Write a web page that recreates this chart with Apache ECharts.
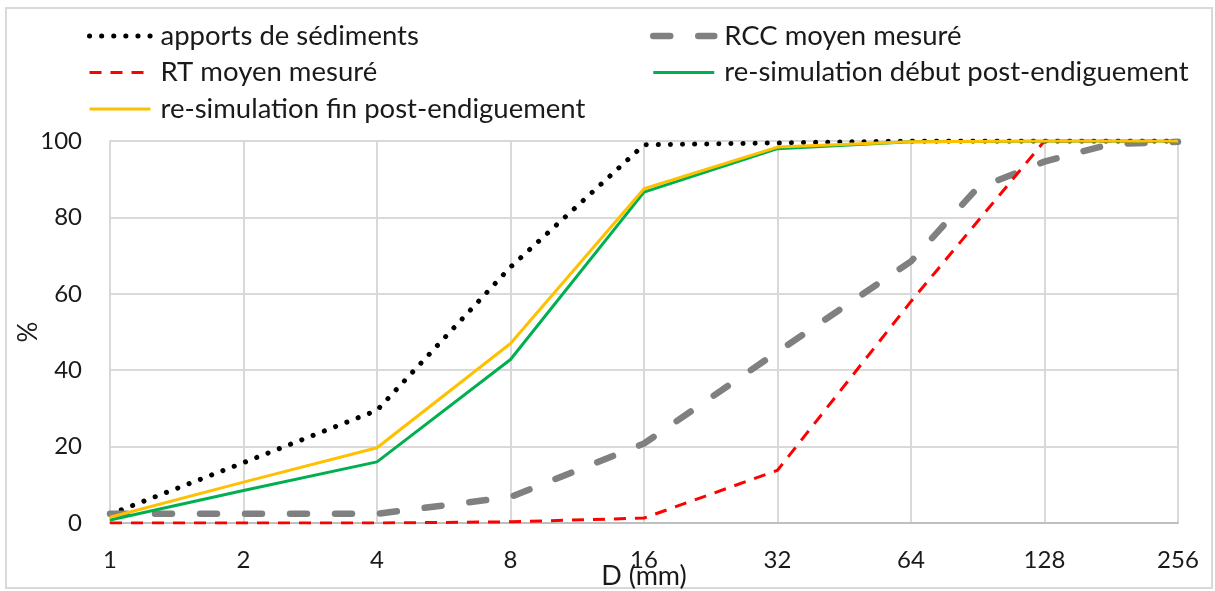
<!DOCTYPE html>
<html>
<head>
<meta charset="utf-8">
<script src="https://cdn.jsdelivr.net/npm/echarts@6/dist/echarts.min.js"></script>
<style>
  html, body { margin: 0; padding: 0; background: #fff; }
  #chart { width: 1215px; height: 591px; }
</style>
</head>
<body>
<div id="chart"></div>
<script>
// grain size (mm) and cumulative passing (%)
const diam = [1, 2, 4, 8, 16, 32, 64, 128, 256];
const apports = [2.3, 15.8, 29.5, 67, 99, 99.5, 100, 100, 100];
const rtMoyen = [0, 0, 0, 0.3, 1.3, 13.8, 58, 100, 100];
const simDebut = [0.8, 8.5, 16, 42.8, 86.6, 98, 99.8, 100, 100];
const simFin = [1.5, 10.7, 19.7, 47, 87.5, 98.4, 99.8, 100, 100];
const rccDiam = [1, 2, 4, 8, 16, 32, 64, 90, 128, 180, 256];
const rccMoyen = [2.4, 2.4, 2.4, 6.8, 20.8, 44.8, 68.5, 87.5, 94.6, 99.2, 99.8];

const pairs = (xs, ys) => xs.map((x, i) => [x, ys[i]]);
const font = 'Lato, "Open Sans", sans-serif';
const txt = '#1a1a1a';

var chart = echarts.init(document.getElementById('chart'));

const legendBase = {
    orient: 'vertical', top: 17,
    itemWidth: 61, itemHeight: 24, itemGap: 8.5,
    itemStyle: { opacity: 0 },
    lineStyle: { width: 'inherit' },
    textStyle: { fontSize: 27.5, lineHeight: 28, color: txt, fontFamily: font, padding: [0, 0, 0, 5] }
};

chart.setOption({
    animation: false,
    textStyle: { fontFamily: font },
    graphic: [{
        type: 'rect',
        shape: { x: 6, y: 8, width: 1206, height: 580 },
        style: { fill: 'none', stroke: '#d9d9d9', lineWidth: 2 },
        silent: true
    }],
    legend: [
        Object.assign({}, legendBase, {
            left: 82,
            data: ['apports de sédiments', 'RT moyen mesuré', 're-simulation fin post-endiguement']
        }),
        Object.assign({}, legendBase, {
            left: 645,
            data: ['RCC moyen mesuré', 're-simulation début post-endiguement']
        })
    ],
    grid: { left: 110, right: 37, top: 141, bottom: 68, outerBoundsMode: 'none', containLabel: false },
    xAxis: {
        type: 'log', logBase: 2, min: 1, max: 256,
        name: 'D (mm)', nameLocation: 'middle', nameGap: 40, nameMoveOverlap: false,
        nameTextStyle: { fontSize: 27, color: txt },
        axisLine: { lineStyle: { color: '#bfbfbf', width: 2 } },
        axisTick: { show: false },
        axisLabel: { fontSize: 24, color: txt, margin: 25 },
        splitLine: { show: true, lineStyle: { color: '#d9d9d9', width: 2 } },
        minorSplitLine: { show: false }
    },
    yAxis: {
        type: 'value', min: 0, max: 100, interval: 20,
        name: '%', nameLocation: 'middle', nameGap: 68, nameMoveOverlap: false,
        nameTextStyle: { fontSize: 26, color: txt },
        axisLine: { show: true, lineStyle: { color: '#d9d9d9', width: 2 } },
        axisTick: { show: false },
        axisLabel: { fontSize: 24, color: txt, margin: 28 },
        splitLine: { lineStyle: { color: '#d9d9d9', width: 2 } }
    },
    series: [
        {
            name: 'apports de sédiments', type: 'line', showSymbol: false, symbol: 'none',
            lineStyle: { color: '#000', width: 5, type: [0.1, 12], cap: 'round' },
            itemStyle: { color: '#000' },
            data: pairs(diam, apports)
        },
        {
            name: 'RCC moyen mesuré', type: 'line', showSymbol: false, symbol: 'none',
            lineStyle: { color: '#808080', width: 6.5, type: [17, 28], cap: 'round' },
            itemStyle: { color: '#808080' },
            data: pairs(rccDiam, rccMoyen)
        },
        {
            name: 'RT moyen mesuré', type: 'line', showSymbol: false, symbol: 'none',
            lineStyle: { color: '#ff0000', width: 3, type: [12, 9] },
            itemStyle: { color: '#ff0000' },
            data: pairs(diam, rtMoyen)
        },
        {
            name: 're-simulation début post-endiguement', type: 'line', showSymbol: false, symbol: 'none',
            lineStyle: { color: '#00b050', width: 3 },
            itemStyle: { color: '#00b050' },
            data: pairs(diam, simDebut)
        },
        {
            name: 're-simulation fin post-endiguement', type: 'line', showSymbol: false, symbol: 'none',
            lineStyle: { color: '#ffc000', width: 3 },
            itemStyle: { color: '#ffc000' },
            data: pairs(diam, simFin)
        }
    ]
});
</script>
</body>
</html>
